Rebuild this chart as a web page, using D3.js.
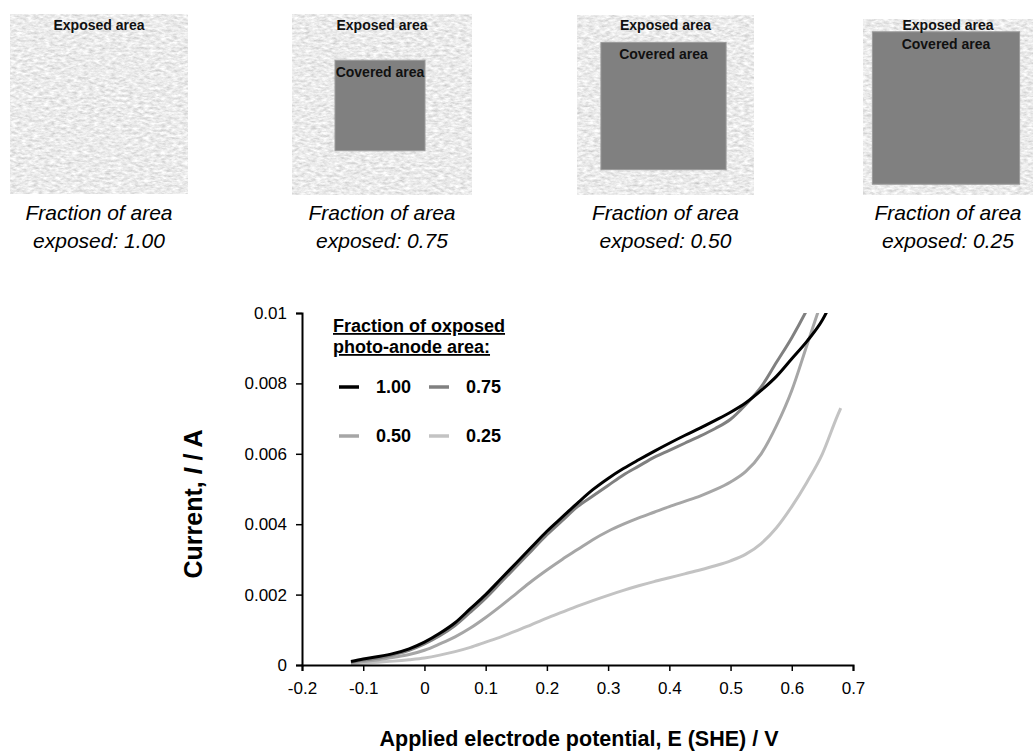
<!DOCTYPE html>
<html>
<head>
<meta charset="utf-8">
<script src="https://cdn.jsdelivr.net/npm/d3@7"></script>
<style>
  body { margin: 0; background: #fff; }
  svg { display: block; font-family: "Liberation Sans", Arial, sans-serif; }
</style>
</head>
<body>
<div id="chart"></div>
<script>
// Fraction of exposed area shown in the four sketches (and the legend)
const fractions = [1.00, 0.75, 0.50, 0.25];

// Applied potential, E (SHE) / V
const potential = [-0.12, -0.1, -0.075, -0.05, -0.025, 0, 0.025, 0.05, 0.075, 0.1,
    0.125, 0.15, 0.175, 0.2, 0.225, 0.25, 0.275, 0.3, 0.325, 0.35, 0.375, 0.4,
    0.425, 0.45, 0.475, 0.5, 0.525, 0.55, 0.575, 0.6, 0.625, 0.65, 0.675, 0.68];

// Current / A for each exposed fraction (null = past end of scan)
const current100 = [0.0001, 0.00017, 0.00024, 0.00033, 0.00046, 0.00065, 0.0009, 0.0012, 0.0016, 0.002,
    0.00245, 0.0029, 0.00335, 0.0038, 0.0042, 0.0046, 0.00498, 0.0053, 0.00558, 0.00583, 0.00607, 0.0063,
    0.00652, 0.00673, 0.00695, 0.00718, 0.00745, 0.0078, 0.0082, 0.0087, 0.0092, 0.0098, 0.0107, null];
const current075 = [0.00008, 0.00014, 0.0002, 0.0003, 0.00042, 0.0006, 0.00083, 0.00112, 0.0015, 0.0019,
    0.00235, 0.0028, 0.00325, 0.0037, 0.0041, 0.0045, 0.0048, 0.0051, 0.0054, 0.00565, 0.0059, 0.0061,
    0.0063, 0.0065, 0.00672, 0.00698, 0.0074, 0.0079, 0.0086, 0.0093, 0.0101, 0.011, null, null];
const current050 = [0.00005, 0.0001, 0.00015, 0.00022, 0.0003, 0.00042, 0.0006, 0.0008, 0.00105, 0.00135,
    0.00168, 0.00203, 0.00238, 0.0027, 0.003, 0.00328, 0.00356, 0.0038, 0.004, 0.00418, 0.00434, 0.0045,
    0.00465, 0.0048, 0.00498, 0.0052, 0.0055, 0.006, 0.0068, 0.0078, 0.0091, 0.0104, null, null];
const current025 = [0.00003, 0.00005, 0.00008, 0.00011, 0.00015, 0.0002, 0.00028, 0.00038, 0.0005, 0.00065,
    0.0008, 0.00097, 0.00115, 0.00133, 0.0015, 0.00167, 0.00183, 0.00198, 0.00212, 0.00225, 0.00237, 0.00248,
    0.00259, 0.0027, 0.00282, 0.00296, 0.00315, 0.00345, 0.0039, 0.0045, 0.0052, 0.006, 0.0071, 0.0073];

const xTicks = [-0.2, -0.1, 0, 0.1, 0.2, 0.3, 0.4, 0.5, 0.6, 0.7];
const yTicks = [0, 0.002, 0.004, 0.006, 0.008, 0.01];

function init() {
    const width = 1035;
    const height = 751;

    const svg = d3.select("#chart")
        .append("svg")
        .attr("width", width)
        .attr("height", height);

    // --- textured background for the sketches
    const defs = svg.append("defs");
    const filt = defs.append("filter")
        .attr("id", "cloth")
        .attr("x", 0).attr("y", 0).attr("width", 1).attr("height", 1);
    filt.append("feTurbulence")
        .attr("type", "fractalNoise")
        .attr("baseFrequency", "0.18 0.4")
        .attr("numOctaves", 3)
        .attr("seed", 7);
    filt.append("feColorMatrix")
        .attr("type", "matrix")
        .attr("values", "0.6 0 0 0 0.53  0.6 0 0 0 0.53  0.6 0 0 0 0.53  0 0 0 0 1");

    // sketch squares (left, top, size)
    const panels = [
        { x: 10, y: 14, w: 178, h: 180 },
        { x: 292, y: 14, w: 180, h: 181 },
        { x: 577, y: 15, w: 177, h: 180 },
        { x: 863, y: 19, w: 170, h: 176 }
    ];

    panels.forEach((p, i) => {
        const f = fractions[i];
        const g = svg.append("g");
        g.append("rect")
            .attr("x", p.x).attr("y", p.y)
            .attr("width", p.w).attr("height", p.h)
            .attr("fill", "#d4d4d4")
            .attr("filter", "url(#cloth)");

        if (f < 1) {
            const k = Math.sqrt(1 - f);
            const cw = p.w * k, ch = p.h * k;
            const cx = p.x + p.w / 2 - 2, cy = p.y + p.h / 2 + 1;
            g.append("rect")
                .attr("x", cx - cw / 2).attr("y", cy - ch / 2)
                .attr("width", cw).attr("height", ch)
                .attr("fill", "#808080")
                .attr("stroke", "#9a9a9a")
                .attr("stroke-width", 1);
            g.append("text")
                .attr("x", cx).attr("y", cy - ch / 2 + 17)
                .attr("text-anchor", "middle")
                .attr("font-size", 14).attr("font-weight", "bold")
                .attr("fill", "#111")
                .text("Covered area");
        }

        g.append("text")
            .attr("x", p.x + p.w / 2).attr("y", 30)
            .attr("text-anchor", "middle")
            .attr("font-size", 14).attr("font-weight", "bold")
            .attr("fill", "#111")
            .text("Exposed area");

        g.append("text")
            .attr("x", p.x + p.w / 2).attr("y", 220)
            .attr("text-anchor", "middle")
            .attr("font-size", 21).attr("font-style", "italic")
            .text("Fraction of area");
        g.append("text")
            .attr("x", p.x + p.w / 2).attr("y", 248)
            .attr("text-anchor", "middle")
            .attr("font-size", 21).attr("font-style", "italic")
            .text("exposed: " + f.toFixed(2));
    });

    // --- I-E plot
    const x = d3.scaleLinear().domain([-0.2, 0.7]).range([302, 853]);
    const y = d3.scaleLinear().domain([0, 0.01]).range([665, 313]);

    defs.append("clipPath").attr("id", "plotclip")
        .append("rect")
        .attr("x", x(-0.2)).attr("y", y(0.01))
        .attr("width", x(0.7) - x(-0.2)).attr("height", y(0) - y(0.01));

    const series = [
        { name: "1.00", values: current100, color: "#000000" },
        { name: "0.75", values: current075, color: "#808080" },
        { name: "0.50", values: current050, color: "#a6a6a6" },
        { name: "0.25", values: current025, color: "#c3c3c3" }
    ];

    const line = d3.line()
        .defined(d => d[1] != null)
        .x(d => x(d[0]))
        .y(d => y(d[1]))
        .curve(d3.curveMonotoneX);

    // draw lightest first so darker curves sit on top
    svg.append("g")
        .attr("clip-path", "url(#plotclip)")
        .selectAll("path")
        .data(series.slice().reverse())
        .enter()
        .append("path")
        .attr("d", s => line(potential.map((p, i) => [p, s.values[i]])))
        .attr("fill", "none")
        .attr("stroke", s => s.color)
        .attr("stroke-width", 3)
        .attr("stroke-linejoin", "round");

    const xAxis = svg.append("g")
        .attr("transform", `translate(0,${y(0)})`)
        .call(d3.axisBottom(x).tickValues(xTicks)
            .tickFormat(d => String(+d.toFixed(1)))
            .tickSize(6).tickPadding(11));
    const yAxis = svg.append("g")
        .attr("transform", `translate(${x(-0.2)},0)`)
        .call(d3.axisLeft(y).tickValues(yTicks)
            .tickFormat(d => d === 0 ? "0" : String(+d.toFixed(3)))
            .tickSize(6).tickPadding(9));

    [xAxis, yAxis].forEach(a => {
        a.select(".domain").attr("stroke", "#000").attr("stroke-width", 2);
        a.selectAll(".tick line").attr("stroke", "#000").attr("stroke-width", 1.5);
        a.selectAll(".tick text")
            .attr("font-family", "'Liberation Sans', Arial, sans-serif")
            .attr("font-size", 17)
            .attr("fill", "#000");
    });

    // axis titles
    svg.append("text")
        .attr("x", 579).attr("y", 746)
        .attr("text-anchor", "middle")
        .attr("font-size", 21.5).attr("font-weight", "bold")
        .text("Applied electrode potential, E (SHE) / V");

    const yt = svg.append("text")
        .attr("transform", "translate(202,504) rotate(-90)")
        .attr("text-anchor", "middle")
        .attr("font-size", 25).attr("font-weight", "bold");
    yt.append("tspan").text("Current, ");
    yt.append("tspan").attr("font-style", "italic").text("I");
    yt.append("tspan").text(" / A");

    // legend
    const legend = svg.append("g");
    legend.append("text")
        .attr("x", 333).attr("y", 332)
        .attr("font-size", 18).attr("font-weight", "bold")
        .style("text-decoration", "underline")
        .text("Fraction of oxposed");
    legend.append("text")
        .attr("x", 333).attr("y", 353)
        .attr("font-size", 18).attr("font-weight", "bold")
        .style("text-decoration", "underline")
        .text("photo-anode area:");

    const items = legend.selectAll(".legend-item")
        .data(series)
        .enter()
        .append("g")
        .attr("class", "legend-item")
        .attr("transform", (d, i) => `translate(${339 + (i % 2) * 90},${387 + Math.floor(i / 2) * 49})`);

    items.append("line")
        .attr("x1", 0).attr("x2", 20)
        .attr("stroke", d => d.color)
        .attr("stroke-width", 3.5);
    items.append("text")
        .attr("x", 37).attr("y", 6)
        .attr("font-size", 18).attr("font-weight", "bold")
        .text(d => d.name);
}

window.onload = init;
</script>
</body>
</html>
